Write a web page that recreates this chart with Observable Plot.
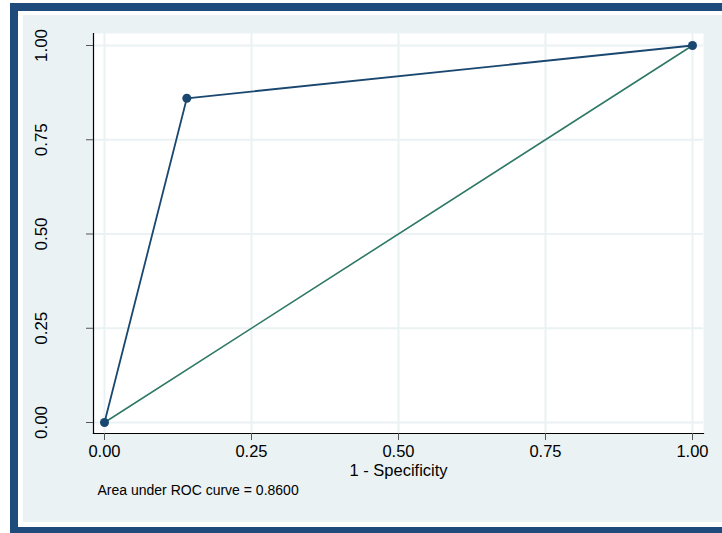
<!DOCTYPE html>
<html><head><meta charset="utf-8">
<script src="https://cdn.jsdelivr.net/npm/d3@7"></script>
<script src="https://cdn.jsdelivr.net/npm/@observablehq/plot@0.6"></script>
<style>
html,body{margin:0;padding:0;background:#fff;overflow:hidden;width:722px;height:533px}
#wrap{position:relative;width:722px;height:533px;overflow:hidden}
#outer{position:absolute;left:10px;top:3px;width:740px;height:516px;border:8px solid #1f4a7c;background:#fff}
#inner{position:absolute;left:5px;top:4px;right:0;bottom:5px;background:#eaf2f3}
#chart{position:absolute;left:0;top:0}
</style></head>
<body>
<div id="wrap"><div id="outer"><div id="inner"></div></div><div id="chart"></div></div>
<script>
// ROC curve points
const specComp = [0, 0.14, 1];      // 1 - Specificity
const sensitivity = [0, 0.86, 1];   // Sensitivity
// Reference (chance) line
const refX = [0, 1];
const refY = [0, 1];
// Axes
const ticks = [0, 0.25, 0.5, 0.75, 1];
const tickLabels = ["0.00", "0.25", "0.50", "0.75", "1.00"];
const xTitle = "1 - Specificity";
const caption = "Area under ROC curve = 0.8600";

const roc = specComp.map((x, i) => ({x, y: sensitivity[i]}));
const ref = refX.map((x, i) => ({x, y: refY[i]}));
const fmt = d => tickLabels[ticks.indexOf(d)];

const navy = "#1a476f";
const teal = "#2e7866";
const grid = "#eaf2f3";
const font = "'Liberation Sans', Arial, Helvetica, sans-serif";

const chart = Plot.plot({
  width: 722, height: 533,
  marginLeft: 93, marginRight: 19, marginTop: 33, marginBottom: 100,
  style: {background: "transparent", fontFamily: font, color: "#000"},
  x: {domain: [0, 1], insetLeft: 11, insetRight: 11},
  y: {domain: [0, 1], insetTop: 12, insetBottom: 11},
  marks: [
    Plot.frame({fill: "white", stroke: null}),
    Plot.gridX(ticks, {stroke: grid, strokeOpacity: 1, strokeWidth: 2}),
    Plot.gridY(ticks, {stroke: grid, strokeOpacity: 1, strokeWidth: 2}),
    Plot.frame({anchor: "left", stroke: "#000", strokeWidth: 1.2}),
    Plot.frame({anchor: "bottom", stroke: "#000", strokeWidth: 1.2}),
    Plot.axisX(ticks, {tickSize: 7, tickPadding: 5, fontSize: 16.5, tickFormat: fmt, label: null, stroke: "#555"}),
    Plot.axisY(ticks, {tickSize: 7, tickFormat: () => "", label: null, stroke: "#555"}),
    Plot.text(ticks, {y: d => d, text: fmt, frameAnchor: "left", textAnchor: "middle", dx: -51.5, rotate: -90, fontSize: 17, fill: "#000"}),
    Plot.text([xTitle], {frameAnchor: "bottom", textAnchor: "middle", dy: 42, fontSize: 16.5, fill: "#000"}),
    Plot.text([caption], {frameAnchor: "bottom-left", dx: 4, dy: 61, textAnchor: "start", fontSize: 14, fill: "#000"}),
    Plot.line(ref, {x: "x", y: "y", stroke: teal, strokeWidth: 1.6}),
    Plot.line(roc, {x: "x", y: "y", stroke: navy, strokeWidth: 1.8}),
    Plot.dot(roc, {x: "x", y: "y", r: 4.5, fill: navy, stroke: null})
  ]
});
document.getElementById("chart").appendChild(chart);
</script>
</body></html>
